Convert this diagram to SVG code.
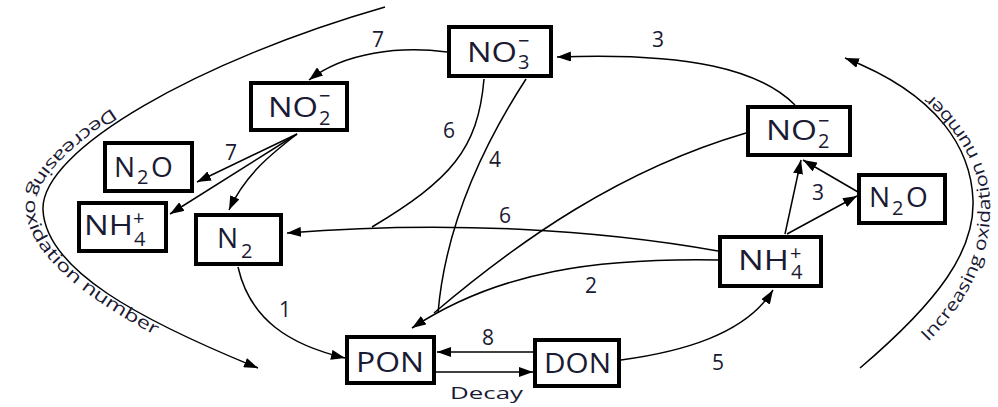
<svg xmlns="http://www.w3.org/2000/svg" width="998" height="407" viewBox="0 0 998 407">
<style>
.box{fill:#fff;stroke:#000;stroke-width:4}
.lab{font-family:"Open Sans","Liberation Sans",sans-serif;font-size:28px;fill:#1a1a33}
.s{font-size:20px}
.num{font-family:"Open Sans","Liberation Sans",sans-serif;font-size:21px;fill:#1a1a33;text-anchor:middle}
.arc{font-family:"Open Sans","Liberation Sans",sans-serif;font-size:17px;fill:#1a1a33}
.c{fill:none;stroke:#000;stroke-width:1.5}
</style>
<defs>
<marker id="ah" viewBox="0 0 14 10" refX="14" refY="5" markerWidth="14" markerHeight="10" orient="auto" markerUnits="userSpaceOnUse"><path d="M0,0 L14,5 L0,10 z" fill="#000"/></marker>
<path id="tl" d="M112,108 C 55,145 24,180 26,210 C 28,255 90,305 185,350"/>
<path id="tr" d="M928,342 C 980,290 992,240 990,200 C 988,160 960,110 900,70"/>
</defs>
<g id="connectors">
<path class="c" d="M385,7 C 200,60 40,150 43,210 C 46,270 140,320 258,368" marker-end="url(#ah)"/>
<path class="c" d="M860,368 C 940,300 975,250 973,200 C 971,150 940,95 845,58" marker-end="url(#ah)"/>
<path class="c" d="M447,52 C 400,46 345,52 309,80" marker-end="url(#ah)"/>
<path class="c" d="M795,105 C 760,70 690,52 557,57" marker-end="url(#ah)"/>
<path class="c" d="M484,79 C 478,150 450,180 372,227"/>
<path class="c" d="M526,79 C 480,150 445,230 438,313"/>
<path class="c" d="M718,251 C 600,230 450,220 287,233" marker-end="url(#ah)"/>
<path class="c" d="M746,133 C 620,170 520,240 434,313"/>
<path class="c" d="M718,260 C 600,258 500,270 412,328" marker-end="url(#ah)"/>
<path class="c" d="M238,267 C 250,320 290,345 345,358" marker-end="url(#ah)"/>
<path class="c" d="M534,352 L437,352" marker-end="url(#ah)"/>
<path class="c" d="M436,372 L533,372" marker-end="url(#ah)"/>
<path class="c" d="M621,360 C 680,352 745,335 773,290" marker-end="url(#ah)"/>
<path class="c" d="M785,234 L801,160" marker-end="url(#ah)"/>
<path class="c" d="M787,234 L857,196" marker-end="url(#ah)"/>
<path class="c" d="M858,192 L803,160" marker-end="url(#ah)"/>
<path class="c" d="M297,134 L197,182" marker-end="url(#ah)"/>
<path class="c" d="M297,134 L170,214" marker-end="url(#ah)"/>
<path class="c" d="M297,134 C 270,155 245,175 229,210" marker-end="url(#ah)"/>
</g>
<g id="arc-labels">
<text class="arc"><textPath href="#tl" textLength="325" lengthAdjust="spacingAndGlyphs">Decreasing oxidation number</textPath></text>
<text class="arc"><textPath href="#tr" textLength="285" lengthAdjust="spacingAndGlyphs">Increasing oxidation number</textPath></text>
</g>
<g id="edge-labels">
<text class="num" x="378" y="47">7</text>
<text class="num" x="658" y="47">3</text>
<text class="num" x="449" y="138">6</text>
<text class="num" x="495" y="167">4</text>
<text class="num" x="505" y="223">6</text>
<text class="num" x="591" y="293">2</text>
<text class="num" x="488" y="345">8</text>
<text class="num" x="231" y="160">7</text>
<text class="num" x="285" y="317">1</text>
<text class="num" x="818" y="200">3</text>
<text class="num" x="718" y="370">5</text>
<text class="arc" x="450" y="399" textLength="73" lengthAdjust="spacingAndGlyphs">Decay</text>
</g>
<g id="NO3">
<rect class="box" x="449" y="27" width="102" height="49"/>
<text class="lab"><tspan x="467" y="62" textLength="50" lengthAdjust="spacingAndGlyphs">NO</tspan><tspan class="s" x="518" y="69">3</tspan><tspan class="s" x="518" y="48">−</tspan></text>
</g>
<g id="NO2-left">
<rect class="box" x="251" y="83" width="96" height="47"/>
<text class="lab"><tspan x="268" y="117" textLength="50" lengthAdjust="spacingAndGlyphs">NO</tspan><tspan class="s" x="319" y="125">2</tspan><tspan class="s" x="319" y="103">−</tspan></text>
</g>
<g id="N2O-left">
<rect class="box" x="105" y="143" width="87" height="48"/>
<text class="lab"><tspan x="114" y="177">N</tspan><tspan class="s" x="137" y="184">2</tspan><tspan x="151" y="177">O</tspan></text>
</g>
<g id="NH4-left">
<rect class="box" x="79" y="203" width="87" height="48"/>
<text class="lab"><tspan x="84" y="235" textLength="49" lengthAdjust="spacingAndGlyphs">NH</tspan><tspan class="s" x="133" y="225">+</tspan><tspan class="s" x="134" y="246">4</tspan></text>
</g>
<g id="N2">
<rect class="box" x="196" y="215" width="85" height="49"/>
<text class="lab"><tspan x="217" y="248">N</tspan><tspan class="s" x="241" y="258">2</tspan></text>
</g>
<g id="PON">
<rect class="box" x="347" y="337" width="87" height="46"/>
<text class="lab" x="356" y="372" textLength="68" lengthAdjust="spacingAndGlyphs">PON</text>
</g>
<g id="DON">
<rect class="box" x="535" y="340" width="84" height="46"/>
<text class="lab" x="544" y="373" textLength="67" lengthAdjust="spacingAndGlyphs">DON</text>
</g>
<g id="NO2-right">
<rect class="box" x="748" y="107" width="102" height="48"/>
<text class="lab"><tspan x="766" y="140" textLength="51" lengthAdjust="spacingAndGlyphs">NO</tspan><tspan class="s" x="818" y="148">2</tspan><tspan class="s" x="818" y="128">−</tspan></text>
</g>
<g id="N2O-right">
<rect class="box" x="859" y="175" width="86" height="48"/>
<text class="lab"><tspan x="869" y="207">N</tspan><tspan class="s" x="892" y="215">2</tspan><tspan x="906" y="207">O</tspan></text>
</g>
<g id="NH4-right">
<rect class="box" x="720" y="237" width="101" height="49"/>
<text class="lab"><tspan x="738" y="270" textLength="51" lengthAdjust="spacingAndGlyphs">NH</tspan><tspan class="s" x="790" y="260">+</tspan><tspan class="s" x="791" y="279">4</tspan></text>
</g>
</svg>
